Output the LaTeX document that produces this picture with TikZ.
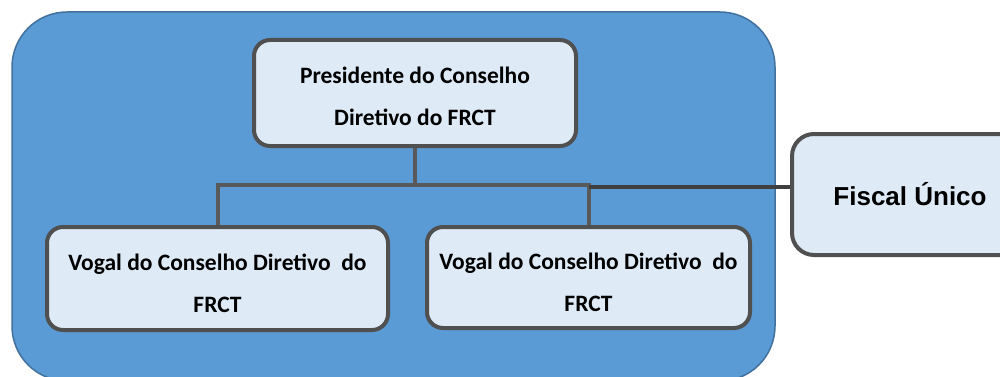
\documentclass[tikz,border=0pt]{standalone}
\usepackage{fontspec}
\newfontfamily\carl{Carlito}
\newfontfamily\arl{Liberation Sans}
\definecolor{bgblue}{HTML}{5B9BD5}
\definecolor{bgedge}{HTML}{41719C}
\definecolor{boxfill}{HTML}{DEEAF6}
\definecolor{boxedge}{HTML}{505050}
\definecolor{linegray}{HTML}{595959}
\definecolor{linedark}{HTML}{404040}
\newcommand{\twolines}[3]{\raisebox{#1}[\height][\depth]{\begin{tabular}{@{}c@{}}#2\\#3\end{tabular}}}
\tikzset{
  orgbox/.style={draw=boxedge, fill=boxfill, line width=4pt, rounded corners=16pt,
    align=center, inner sep=0pt, font={\carl\bfseries\fontsize{23.5}{42}\selectfont}},
  conn/.style={draw=linegray, line width=4pt},
  fiscalconn/.style={draw=linedark, line width=4pt}
}
\begin{document}
\begin{tikzpicture}[x=1pt,y=-1pt]
\useasboundingbox (0,0) rectangle (1000,377);
\begin{scope}
\clip (0,0) rectangle (1000,377);
\draw[fill=bgblue, draw=bgedge, line width=1.5pt, rounded corners=55pt] (12,12) rectangle (775,381);
\node[orgbox, minimum width=322pt, minimum height=106pt] (pres) at (415,93)
  {\twolines{-3pt}{Presidente do Conselho}{Diretivo do FRCT}};
\node[orgbox, minimum width=341pt, minimum height=103pt] (vog1) at (217.5,278.5)
  {\twolines{-5pt}{Vogal do Conselho Diretivo\ \ do}{FRCT}};
\node[orgbox, minimum width=323pt, minimum height=101pt] (vog2) at (588.5,277.5)
  {\twolines{-5pt}{Vogal do Conselho Diretivo\ \ do}{FRCT}};
\node[orgbox, minimum width=236pt, minimum height=121pt, rounded corners=22pt,
  font={\arl\bfseries\fontsize{26}{30}\selectfont}] (fiscal) at (910,194.5)
  {Fiscal Único};
\coordinate (jc) at (415,185);
\coordinate (jr) at (588.5,187);
\draw[conn] (pres.south) -- (jc);
\draw[conn] (vog1.north) -- (vog1.north |- jc) -- (vog2.north |- jc) -- (vog2.north);
\draw[fiscalconn] (jr) -- (jr -| fiscal.west);
\end{scope}
\end{tikzpicture}
\end{document}
